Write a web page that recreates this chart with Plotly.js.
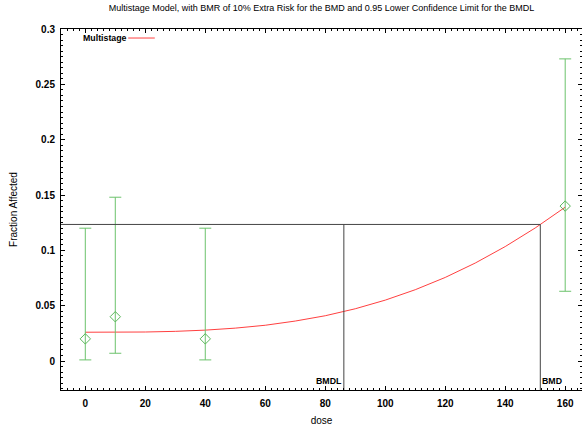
<!DOCTYPE html>
<html><head><meta charset="utf-8">
<script src="https://cdn.plot.ly/plotly-3.0.1.min.js"></script>
<style>html,body{margin:0;padding:0;background:#fff}#chart{width:582px;height:426px}</style>
</head><body><div id="chart"></div>
<script>
// observed data
const doses = [0, 10, 40, 160];
const fracAffected = [0.02, 0.04, 0.02, 0.14];
const ciLower = [0.001, 0.007, 0.001, 0.063];
const ciUpper = [0.12, 0.148, 0.12, 0.273];
// fitted multistage curve
const curveDose = [0, 10, 20, 30, 40, 50, 60, 70, 80, 90, 100, 110, 120, 130, 140, 150, 160];
const curveFrac = [0.026, 0.026, 0.0262, 0.0268, 0.0279, 0.0297, 0.0323, 0.0361, 0.0409, 0.0472, 0.055, 0.0644, 0.0755, 0.0885, 0.1034, 0.1202, 0.139];
// benchmark values
const bmdl = 86.2;
const bmd = 151.7;
const bmrLevel = 0.1234;
const xRange = [-8.1, 165.6];
const yRange = [-0.0262, 0.3];

const traces = [
  {x: curveDose, y: curveFrac, mode: 'lines', line: {color: '#ff4040', width: 1}, hoverinfo: 'skip'},
  {x: doses, y: fracAffected, mode: 'markers',
   marker: {symbol: 'diamond-open', size: 8, color: '#5cb85c', line: {width: 1}},
   error_y: {type: 'data', symmetric: false,
     array: ciUpper.map((u, i) => u - fracAffected[i]),
     arrayminus: ciLower.map((l, i) => fracAffected[i] - l),
     color: '#6cc26c', thickness: 1, width: 6}},
  {x: [xRange[0], bmd], y: [bmrLevel, bmrLevel], mode: 'lines', line: {color: '#444', width: 1}},
  {x: [bmdl, bmdl], y: [yRange[0], bmrLevel], mode: 'lines', line: {color: '#444', width: 1}},
  {x: [bmd, bmd], y: [yRange[0], bmrLevel], mode: 'lines', line: {color: '#444', width: 1}}
];

const fam = 'Liberation Sans, Arial, sans-serif';
const fnt = {family: fam, size: 10, color: '#000'};
const bfnt = {family: fam, size: 10, color: '#000', weight: 'bold'};
const sbfnt = {family: fam, size: 8.8, color: '#000', weight: 'bold'};
const layout = {
  width: 582, height: 426,
  margin: {l: 61, r: 0, t: 29, b: 36},
  showlegend: false,
  paper_bgcolor: '#fff', plot_bgcolor: '#fff',
  font: fnt,
  title: {text: 'Multistage Model, with BMR of 10% Extra Risk for the BMD and 0.95 Lower Confidence Limit for the BMDL',
          font: {family: fam, size: 9, color: '#000'},
          x: 0.5, xref: 'paper', xanchor: 'center', y: 0.988, yanchor: 'top'},
  xaxis: {range: xRange, showgrid: false, zeroline: false, showline: true, linecolor: '#000', linewidth: 1,
    mirror: 'ticks', ticks: 'inside', ticklen: 4, tickcolor: '#000', dtick: 20, tick0: 0,
    minor: {dtick: 2, ticks: 'inside', ticklen: 2, tickcolor: '#000'},
    ticklabelstandoff: 4,
    title: {text: 'dose', font: fnt, standoff: 11}, tickfont: bfnt},
  yaxis: {range: yRange, showgrid: false, zeroline: false, showline: true, linecolor: '#000', linewidth: 1,
    mirror: 'ticks', ticks: 'inside', ticklen: 4, tickcolor: '#000', dtick: 0.05, tick0: 0,
    minor: {dtick: 0.005, ticks: 'inside', ticklen: 2, tickcolor: '#000'},
    ticklabelstandoff: 3,
    title: {text: 'Fraction Affected', font: fnt, standoff: 16}, tickfont: bfnt},
  annotations: [
    {x: bmdl, y: yRange[0], xref: 'x', yref: 'y', text: 'BMDL', showarrow: false, xanchor: 'right', yanchor: 'bottom', yshift: 2, font: sbfnt},
    {x: bmd, y: yRange[0], xref: 'x', yref: 'y', text: 'BMD', showarrow: false, xanchor: 'left', yanchor: 'bottom', yshift: 2, font: sbfnt},
    {x: 0.038, y: 0.975, xref: 'paper', yref: 'paper', text: 'Multistage', showarrow: false, xanchor: 'left', yanchor: 'middle', font: sbfnt}
  ],
  shapes: [
    {type: 'line', xref: 'paper', yref: 'paper', x0: 0.129, x1: 0.18, y0: 0.975, y1: 0.975, line: {color: '#ff4040', width: 1}}
  ]
};
Plotly.newPlot('chart', traces, layout, {displayModeBar: false, staticPlot: true});
</script></body></html>
